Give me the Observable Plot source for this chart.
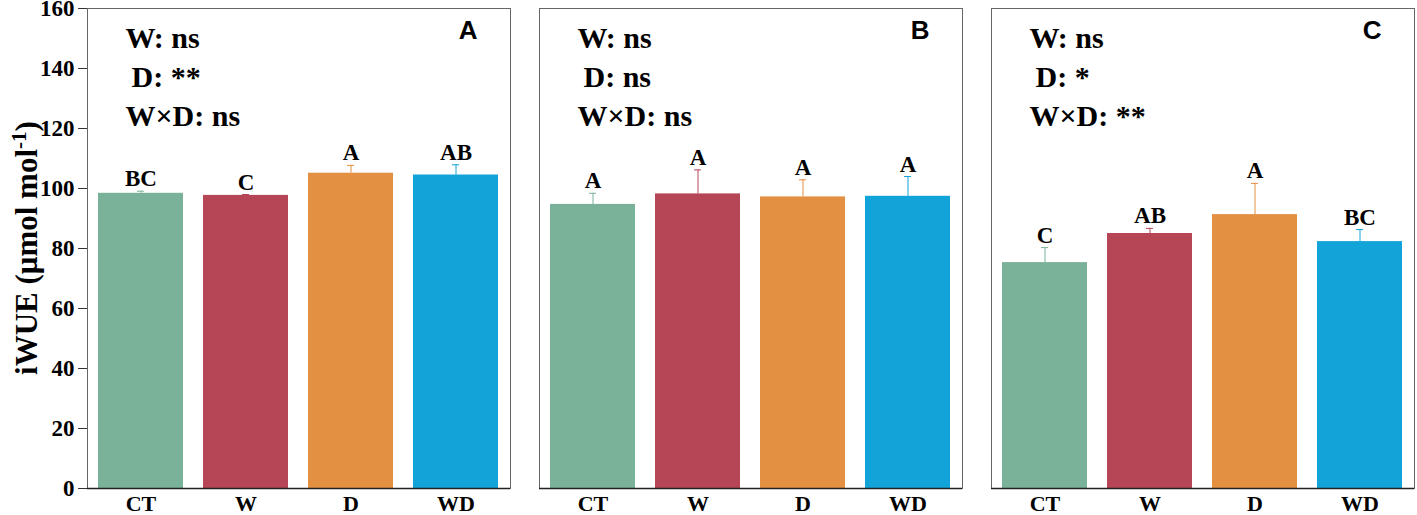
<!DOCTYPE html>
<html><head><meta charset="utf-8">
<script src="https://cdn.jsdelivr.net/npm/d3@7"></script>
<script src="https://cdn.jsdelivr.net/npm/@observablehq/plot@0.6"></script>
<style>html,body{margin:0;padding:0;background:#fff;overflow:hidden}</style>
</head><body><div id="chart"></div>
<script>
const panels = ["A", "B", "C"];
const treatments = ["CT", "W", "D", "WD"];
const colors = ["#7AB199", "#B64656", "#E39043", "#12A3D9"];
const meansA = [98.4, 97.7, 105.1, 104.5];
const errA = [0.7, 0.3, 2.6, 3.4];
const lettersA = ["BC", "C", "A", "AB"];
const meansB = [94.7, 98.2, 97.2, 97.4];
const errB = [3.7, 8.0, 5.7, 6.6];
const lettersB = ["A", "A", "A", "A"];
const meansC = [75.3, 85.0, 91.3, 82.3];
const errC = [5.0, 1.7, 10.4, 4.0];
const lettersC = ["C", "AB", "A", "BC"];
const yTicks = [0, 20, 40, 60, 80, 100, 120, 140, 160];
const annW = ["W: ns", "W: ns", "W: ns"];
const annD = ["D: **", "D: ns", "D: *"];
const annWD = ["W×D: ns", "W×D: ns", "W×D: **"];

const means = [meansA, meansB, meansC];
const errs = [errA, errB, errC];
const letters = [lettersA, lettersB, lettersC];
const rows = [];
panels.forEach((p, i) => treatments.forEach((t, j) => rows.push({
  panel: p, treatment: t, mean: means[i][j], top: means[i][j] + errs[i][j], letter: letters[i][j]
})));
const notes = panels.map((p, i) => ({panel: p, w: annW[i], d: annD[i], wd: annWD[i]}));

const serif = "Liberation Serif";
const sans = "Liberation Sans";
const noteOpts = {fx: "panel", frameAnchor: "top-left", textAnchor: "start", lineAnchor: "bottom", fontSize: 30, fontFamily: serif, fontWeight: "bold", fill: "#000"};
const chart = Plot.plot({
  width: 1417, height: 515,
  marginLeft: 86, marginRight: 1, marginTop: 8, marginBottom: 27,
  style: {fontFamily: serif, fontWeight: "bold", fontSize: "23px", color: "#000", background: "#fff", overflow: "visible"},
  fx: {domain: panels, axis: null, paddingInner: 0.064, paddingOuter: 0},
  x: {domain: treatments, paddingInner: 0.19, paddingOuter: 0.094},
  y: {domain: [0, 160]},
  color: {domain: treatments, range: colors},
  marks: [
    Plot.barY(rows, {fx: "panel", x: "treatment", y: "mean", fill: "treatment"}),
    Plot.ruleX(rows, {fx: "panel", x: "treatment", y1: "mean", y2: "top", stroke: "treatment", strokeWidth: 1}),
    Plot.tickY(rows, {fx: "panel", x: "treatment", y: "top", stroke: "treatment", strokeWidth: 1, inset: 39}),
    Plot.text(rows, {fx: "panel", x: "treatment", y: "top", text: "letter", lineAnchor: "bottom", dy: -5, fontSize: 23, fontFamily: serif, fontWeight: "bold", fill: "#000"}),
    Plot.frame({stroke: "#666", strokeWidth: 1}),
    Plot.ruleY([0], {stroke: "#222", strokeWidth: 1.5}),
    Plot.axisY({ticks: yTicks, tickSize: 9, tickPadding: 4, fontSize: 23, fontFamily: serif, fontWeight: "bold", label: null, stroke: "#333", fill: "#000"}),
    Plot.axisX({tickSize: 0, tickPadding: 7, fontSize: 22, fontFamily: serif, fontWeight: "bold", label: null, fill: "#000"}),
    Plot.text(notes, {...noteOpts, text: "w", dx: 38, dy: 39}),
    Plot.text(notes, {...noteOpts, text: "d", dx: 44, dy: 78}),
    Plot.text(notes, {...noteOpts, text: "wd", dx: 38, dy: 117}),
    Plot.text(notes, {fx: "panel", text: "panel", frameAnchor: "top-right", textAnchor: "end", lineAnchor: "bottom", dx: -33, dy: 30, fontSize: 26, fontFamily: sans, fontWeight: "bold", fill: "#000"})
  ]
});
document.getElementById("chart").appendChild(chart);

const svg = d3.select(chart);
const lab = svg.append("text")
  .attr("transform", "translate(37,248) rotate(-90)")
  .attr("text-anchor", "middle")
  .style("font-family", serif).style("font-weight", "bold").style("font-size", "31px").attr("fill", "#000");
lab.append("tspan").text("iWUE (μmol mol");
lab.append("tspan").attr("dy", -11).style("font-size", "21px").text("-1");
lab.append("tspan").attr("dy", 11).text(")");
</script>
</body></html>
